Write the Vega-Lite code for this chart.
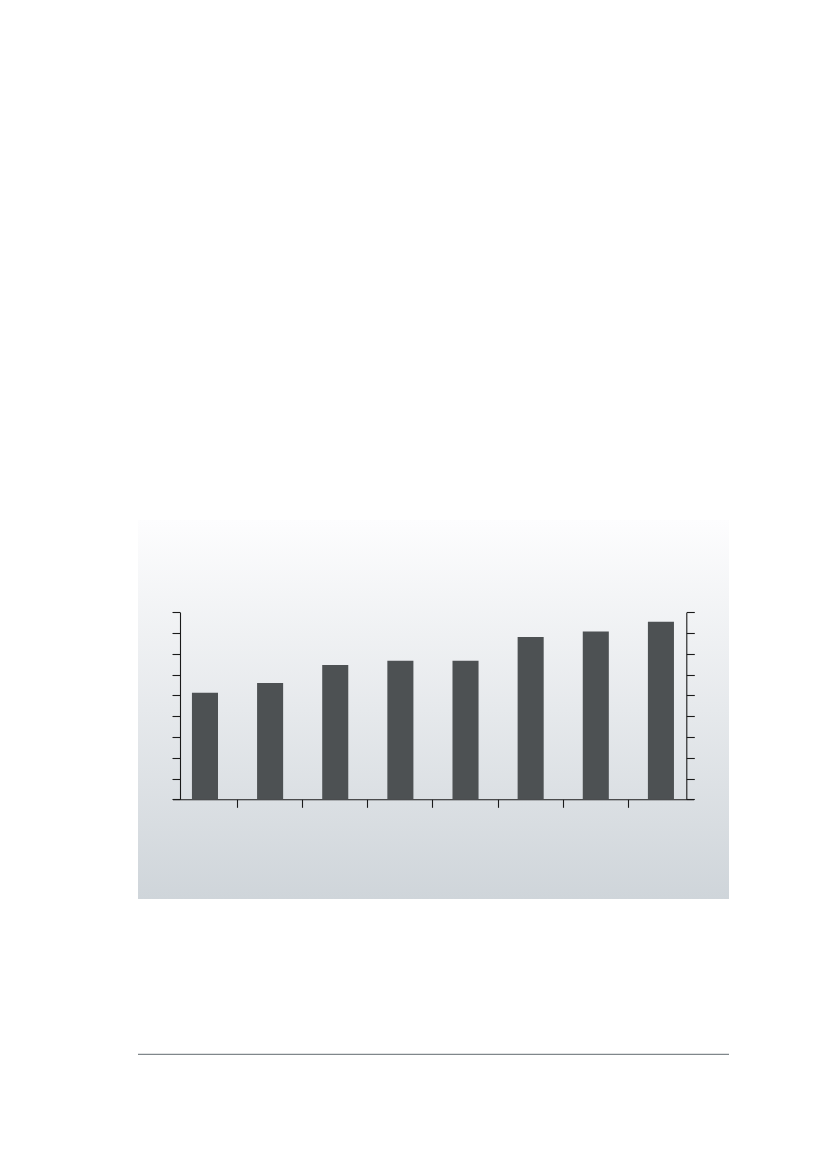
{
  "$schema": "https://vega.github.io/schema/vega-lite/v6.json",
  "background": "#ffffff",
  "padding": {"left": 137, "top": 520, "right": 0, "bottom": 0},
  "bounds": "flush",
  "spacing": 154.3,
  "config": {
    "view": {"stroke": null},
    "axis": {"domainColor": "#1a1a1a", "tickColor": "#1a1a1a", "domainWidth": 1.1, "tickWidth": 1.1, "grid": false, "labels": false, "title": null}
  },
  "vconcat": [
    {
      "width": 591,
      "height": 379,
      "view": {
        "fill": {
          "gradient": "linear",
          "x1": 0, "y1": 0, "x2": 0, "y2": 1,
          "stops": [
            {"offset": 0, "color": "#fdfdfe"},
            {"offset": 1, "color": "#cfd5da"}
          ]
        }
      },
      "data": {
        "values": [
          {"cat": "1", "value": 5.13},
          {"cat": "2", "value": 5.6},
          {"cat": "3", "value": 6.46},
          {"cat": "4", "value": 6.67},
          {"cat": "5", "value": 6.67},
          {"cat": "6", "value": 7.81},
          {"cat": "7", "value": 8.08},
          {"cat": "8", "value": 8.55}
        ]
      },
      "layer": [
        {
          "mark": {"type": "bar", "color": "#4d5153", "width": {"band": 0.4}},
          "encoding": {
            "x": {
              "field": "cat",
              "type": "nominal",
              "scale": {"range": [34.4, 555.5], "paddingInner": 0, "paddingOuter": 0},
              "axis": {
                "orient": "bottom",
                "offset": -99.7,
                "values": ["1", "2", "3", "4", "5", "6", "7"],
                "bandPosition": 1,
                "tickExtra": false,
                "tickSize": 8
              }
            },
            "y": {
              "field": "value",
              "type": "quantitative",
              "scale": {"domain": [0, 9], "range": [279.3, 92.3], "nice": false, "zero": true},
              "axis": {
                "orient": "left",
                "offset": -42,
                "values": [0, 1, 2, 3, 4, 5, 6, 7, 8, 9],
                "tickSize": 8
              }
            }
          }
        },
        {
          "mark": {"type": "bar", "opacity": 0},
          "encoding": {
            "x": {"field": "cat", "type": "nominal"},
            "y": {
              "field": "value",
              "type": "quantitative",
              "axis": {
                "orient": "right",
                "offset": -42.7,
                "values": [0, 1, 2, 3, 4, 5, 6, 7, 8, 9],
                "tickSize": 8
              }
            }
          }
        }
      ]
    },
    {
      "width": 591,
      "height": 1,
      "data": {"values": [{"y": 0}]},
      "mark": {"type": "rule", "color": "#80878b", "strokeWidth": 1.2},
      "encoding": {
        "y": {"field": "y", "type": "quantitative", "scale": {"domain": [0, 1]}, "axis": null}
      }
    }
  ]
}
